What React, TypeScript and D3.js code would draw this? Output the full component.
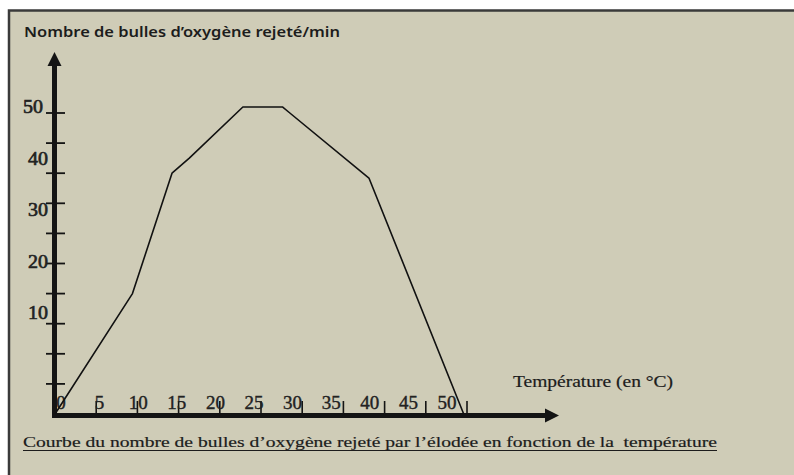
import React from "react";
import * as d3 from "d3";

const temperatures = [0, 9.4, 14.2, 16.3, 22.8, 27.6, 28.5, 38.1, 49.6];
const bubbles = [0, 20, 40, 42.5, 51, 51, 50, 39.2, 0];
const xTickValues = [0, 5, 10, 15, 20, 25, 30, 35, 40, 45, 50];
const xTickLabels = ["0", "5", "10", "15", "20", "25", "30", "35", "40", "45", "50"];
const yTickValues = [5, 10, 15, 20, 25, 30, 35, 40, 45, 50];
const yLabelValues = [10, 20, 30, 40, 50];
const yLabelTexts = ["10", "20", "30", "40", "50"];

const yTitle = "Nombre de bulles d\u2019oxygène rejeté/min";
const xTitle = "Température (en °C)";
const caption = "Courbe du nombre de bulles d\u2019oxygène rejeté par l\u2019élodée en fonction de la  température";

export default function App() {
  const W = 794, H = 475;
  const x = d3.scaleLinear().domain([0, 50]).range([55, 467]);
  const y = d3.scaleLinear().domain([0, 50]).range([414, 113]);
  // label placement scales (labels in the reference drift from their ticks)
  const xLab = d3.scaleLinear().domain([0, 50]).range([61, 447]);
  const yLab = d3.scaleLinear().domain([10, 50]).range([313, 107]);

  const pts = temperatures.map((t, i) => [t, bubbles[i]] as [number, number]);
  const line = d3.line<[number, number]>().x(d => x(d[0])).y(d => y(d[1]));

  const serif = "'Liberation Serif', 'DejaVu Serif', serif";
  const ink = "#141414";
  const axisX = 54.5;
  const axisY = 415.5;

  return (
    <svg width={W} height={H} style={{ position: "absolute", left: 0, top: 0, display: "block" }}>
      <rect x={0} y={0} width={W} height={H} fill="#ffffff" />
      <rect x={9} y={10.5} width={W + 20} height={H} fill="#CFCCB7" stroke="#3a3a3a" strokeWidth={2.5} />

      <text x={24} y={37} fontFamily="'Noto Sans', 'Open Sans', sans-serif" fontWeight={600}
        fontSize={15} fill="#1c1c1c" textLength={316} lengthAdjust="spacingAndGlyphs">{yTitle}</text>

      {/* y axis */}
      <line x1={axisX} x2={axisX} y1={418} y2={62} stroke={ink} strokeWidth={5} />
      <path d={`M${axisX},52 L${axisX + 7},66 L${axisX - 7},66 Z`} fill={ink} />
      {yTickValues.map(v => (
        <line key={"yt" + v} x1={46} x2={65} y1={y(v)} y2={y(v)} stroke={ink} strokeWidth={1.8} />
      ))}
      {yLabelValues.map((v, i) => (
        <text key={"yl" + v} x={v === 50 ? 43 : 48} y={yLab(v) + 6} textAnchor="end" fontFamily={serif}
          fontSize={18} fill="#222" stroke="#222" strokeWidth={0.6}
          textLength={20} lengthAdjust="spacingAndGlyphs">{yLabelTexts[i]}</text>
      ))}

      {/* x axis */}
      <line x1={52} x2={548} y1={axisY} y2={axisY} stroke={ink} strokeWidth={5} />
      <path d={`M559,${axisY} L545,${axisY - 7} L545,${axisY + 7} Z`} fill={ink} />
      {xTickValues.slice(1).map(v => (
        <line key={"xt" + v} x1={x(v)} x2={x(v)} y1={401} y2={axisY} stroke={ink} strokeWidth={1.6} />
      ))}
      {xTickValues.map((v, i) => (
        <text key={"xl" + v} x={xLab(v)} y={409} textAnchor="middle" fontFamily={serif}
          fontSize={19} fill="#222" stroke="#222" strokeWidth={0.4}>{xTickLabels[i]}</text>
      ))}

      <path d={line(pts) || ""} fill="none" stroke="#111" strokeWidth={1.6} strokeLinejoin="round" />

      <text x={513} y={387} fontFamily={serif} fontSize={16} fill="#1c1c1c" stroke="#1c1c1c" strokeWidth={0.2}
        textLength={160} lengthAdjust="spacingAndGlyphs">{xTitle}</text>

      <text x={23} y={447} fontFamily={serif} fontSize={15.5} fill="#1c1c1c" stroke="#1c1c1c" strokeWidth={0.2}
        style={{ whiteSpace: "pre" }}
        textLength={694} lengthAdjust="spacingAndGlyphs">{caption}</text>
      <line x1={23} x2={717} y1={450.5} y2={450.5} stroke="#1c1c1c" strokeWidth={1.2} />
    </svg>
  );
}
